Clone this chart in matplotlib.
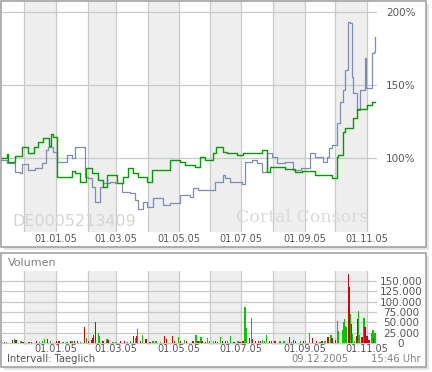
import matplotlib.pyplot as plt
from matplotlib.patches import Rectangle
from matplotlib.transforms import ScaledTranslation
from datetime import date

# Taille de l'image en pixels
W, H = 432, 372

# Date du bord gauche de l'axe des temps
debut = date(2004, 11, 8)

# Cours relatif en % (ligne verte) : jour depuis le debut, valeur
jours_vert = [0, 6, 7, 14, 21, 27, 33, 37, 42, 47,
              49, 51, 55, 70, 73, 78, 84, 89, 95, 100,
              104, 114, 120, 125, 129, 134, 143, 148, 166, 175,
              180, 190, 195, 200, 208, 211, 217, 221, 231, 237,
              255, 260, 263, 278, 288, 295, 307, 324, 329, 330,
              335, 337, 344, 348, 358, 363, 366]
cours_vert = [100, 102.7, 97.3, 101.4, 107.5, 103.4, 107.5, 111, 113.7, 108.2,
              116.4, 114.4, 87, 91.1, 89.7, 83.6, 93.2, 89.7, 84.9, 80.1,
              88.4, 82.9, 87, 93.2, 89.7, 87, 83.6, 91.8, 98.6, 97.3,
              95.2, 93.8, 100.7, 98.6, 103.4, 107.5, 104, 103.4, 102, 103.4,
              105.5, 90.4, 93.8, 92.5, 90.4, 91, 88.4, 86.3, 100.7, 102,
              117.8, 120.5, 127.4, 133.6, 136.3, 138.4, 138.4]

# Cours relatif en % (ligne bleue)
jours_bleu = [0, 6, 14, 19, 21, 27, 34, 41, 44, 46,
              51, 55, 65, 70, 73, 83, 85, 89, 92, 97,
              100, 107, 112, 119, 127, 131, 134, 139, 143, 149,
              159, 166, 175, 185, 188, 193, 198, 210, 217, 219,
              224, 236, 239, 246, 251, 255, 260, 265, 270, 278,
              286, 294, 302, 307, 315, 319, 321, 324, 329, 332,
              335, 337, 339, 341, 343, 344, 348, 351, 356, 357,
              358, 363, 365, 366]
cours_bleu = [98.6, 96.6, 90.4, 89.7, 95.9, 91.8, 93.2, 96.6, 105.5, 107.5,
              104, 97.3, 102, 100, 107.5, 87, 86.3, 80.1, 69.9, 80.1,
              82.9, 83.6, 82.9, 76.7, 76, 71.2, 65.1, 69.9, 66.4, 72.6,
              67.8, 69.2, 74.7, 73.3, 79.5, 78, 78, 83.6, 88.4, 86.3,
              83.6, 82.2, 97.3, 98.6, 96.6, 90.4, 103.4, 100.7, 96.6, 97.3,
              91.8, 93.2, 103.4, 100.7, 97.3, 100.7, 106.8, 108.9, 124, 138.4,
              146.6, 160.3, 193.2, 192.5, 155.5, 144.5, 132.9, 146.6, 168.5, 147.9,
              147.9, 172, 172.6, 182.9]

# Volumes journaliers (en milliers) et sens de la seance (g = hausse, r = baisse)
jours_vol = [1, 4, 6, 12, 14, 15, 20, 22, 28, 30,
             35, 38, 41, 43, 46, 49, 55, 57, 61, 65,
             69, 70, 72, 75, 78, 82, 84, 86, 89, 90,
             91, 93, 96, 97, 100, 104, 105, 110, 113, 117,
             121, 124, 127, 130, 132, 133, 134, 137, 139, 142,
             146, 149, 152, 156, 160, 162, 168, 170, 174, 176,
             180, 182, 188, 191, 193, 195, 196, 197, 200, 202,
             204, 208, 210, 212, 215, 217, 220, 222, 225, 228,
             232, 234, 237, 239, 240, 243, 245, 246, 249, 252,
             254, 256, 258, 260, 263, 265, 268, 273, 277, 282,
             284, 286, 288, 293, 296, 298, 302, 305, 309, 312,
             314, 317, 320, 323, 324, 327, 329, 330, 334, 335,
             336, 337, 338, 340, 341, 342, 343, 344, 346, 348,
             349, 350, 351, 353, 355, 356, 358, 360, 363, 364,
             365, 366]
volumes_k = [8, 3, 3, 7, 9, 8, 5, 3, 3, 2,
             4, 3, 5, 9, 9, 5, 6, 5, 3, 3,
             5, 5, 4, 6, 3, 39, 12, 4, 8, 12,
             20, 51, 23, 17, 4, 9, 7, 3, 3, 6,
             4, 3, 6, 17, 12, 16, 33, 5, 20, 9,
             3, 6, 4, 3, 17, 9, 17, 4, 14.5, 6,
             7, 4, 5, 18.5, 4, 5, 14.5, 6, 3, 12,
             4, 5, 6, 3, 14.5, 6, 4, 4, 17, 3,
             5, 3, 6, 87, 36, 12, 60, 10, 4, 6,
             4, 8, 5, 18.5, 6, 5, 5, 6, 4, 14.5,
             3, 8, 4, 5, 6, 4, 24, 12, 4, 3,
             4, 6, 14.5, 18.5, 12, 8, 53, 29, 31, 51,
             57, 41, 39, 166, 135, 71, 47, 21, 6, 17,
             57, 77, 18.5, 14, 60, 39, 16, 8, 23, 31,
             12, 25]
sens_vol = list("grgrgrgrrr" "rgggrgrrgg" "rgrrgrgrrr" "rrggrgrggr"
                "rggrgrgrgr" "rgggrrrrgr" "grrgrggrrg" "ggrrgrrggr"
                "grrggrgrrr" "rgggrrrggr" "grrgrggrrg" "rgrgrrgggg"
                "gggrrgrggr" "rggrgrrrgg" "rg")

# Graduations
pct_ticks = [100, 150, 200]
vol_ticks = [0, 25000, 50000, 75000, 100000, 125000, 150000]
mois = [date(2004, 12, 1)] + [date(2005, m, 1) for m in range(1, 12)]
mois_labels = [date(2005, m, 1) for m in (1, 3, 5, 7, 9, 11)]
mois_gris = [date(2004, 12, 1)] + [date(2005, m, 1) for m in (2, 4, 6, 8, 10)]

# Couleurs
c_vert = '#009900'
c_bleu = '#7b8db2'
c_grille = '#c9c9c9'
c_bande = '#eeeeee'
c_texte = '#555555'


def jour(d):
    return (d - debut).days


def mois_suivant(d):
    return date(d.year + d.month // 12, d.month % 12 + 1, 1)


fig = plt.figure(figsize=(W / 100, H / 100), dpi=100)


def axes_px(x0, y0, x1, y1):
    return fig.add_axes([x0 / W, 1 - y1 / H, (x1 - x0) / W, (y1 - y0) / H])


# Cadres avec ombre
def cadre(x0, y0, x1, y1):
    fig.add_artist(Rectangle(((x0 + 3) / W, 1 - (y1 + 3) / H), (x1 - x0) / W, (y1 - y0) / H,
                             transform=fig.transFigure, facecolor='#e4e4e4', edgecolor='none', zorder=-3))
    fig.add_artist(Rectangle((x0 / W, 1 - y1 / H), (x1 - x0) / W, (y1 - y0) / H,
                             transform=fig.transFigure, facecolor='white', edgecolor='none', zorder=-2))
    fig.add_artist(Rectangle((x0 / W, 1 - y1 / H), (x1 - x0) / W, (y1 - y0) / H,
                             transform=fig.transFigure, facecolor='none', edgecolor='#9a9a9a',
                             linewidth=1.1, zorder=5))


cadre(0.5, 0.5, 425.5, 246.5)
cadre(0.5, 252.5, 425.5, 366.5)

xlim = (0.5, 367.8)
decalage = ScaledTranslation(-6 / 100, 0, fig.dpi_scale_trans)


def fond(ax):
    ax.set_xlim(*xlim)
    for m in mois_gris:
        ax.axvspan(jour(m), jour(mois_suivant(m)), color=c_bande, lw=0, zorder=0)
    for m in mois:
        ax.axvline(jour(m), color=c_grille, lw=0.9, zorder=1)
    for s in ax.spines.values():
        s.set_visible(False)
    ax.set_xticks([jour(m) for m in mois_labels])
    ax.set_xticklabels([m.strftime('%d.%m.%y') for m in mois_labels])
    for t in ax.get_xticklabels():
        t.set_transform(t.get_transform() + decalage)


# Graphique des cours
ax1 = axes_px(1, 1, 377, 232)
fond(ax1)
ax1.set_ylim(49.3, 207.5)
for p in pct_ticks:
    ax1.axhline(p, color=c_grille, lw=0.9, zorder=1)
ax1.step(jours_bleu, cours_bleu, where='post', color=c_bleu, lw=0.9, zorder=3)
ax1.step(jours_vert, cours_vert, where='post', color=c_vert, lw=1.0, zorder=4)
ax1.set_yticks(pct_ticks)
ax1.set_yticklabels([f'{p}%' for p in pct_ticks])
ax1.tick_params(axis='x', length=0, pad=1.8, labelsize=7, labelcolor=c_texte)
ax1.tick_params(axis='y', length=0, pad=17.3, labelsize=7.5, labelcolor=c_texte,
                labelleft=False, labelright=True)
for t in ax1.get_yticklabels():
    t.set_ha('center')

# Filigranes
ax1.text(11 / 376, 6 / 231, 'DE0005213409', transform=ax1.transAxes, fontsize=11.5,
         color='#d4d4d4', va='baseline', ha='left', zorder=2)
ax1.text(235 / 376, 10 / 231, 'Cortal Consors', transform=ax1.transAxes, fontsize=12.5,
         family='DejaVu Serif', color='#dadada', va='baseline', ha='left', zorder=2)

# Graphique des volumes
ax2 = axes_px(1, 271, 377, 345)
fond(ax2)
ax2.set_ylim(-4840, 174200)
for v in vol_ticks:
    ax2.axhline(v, color=c_grille, lw=0.9, zorder=1)
volumes = [v * 1000 for v in volumes_k]
couleurs = ['#00c400' if s == 'g' else '#cc0000' for s in sens_vol]
ax2.bar(jours_vol, volumes, width=1.3, color=couleurs, linewidth=0, zorder=3)
ax2.set_yticks(vol_ticks)
ax2.set_yticklabels([f'{v:,}'.replace(',', '.') for v in vol_ticks])
ax2.tick_params(axis='x', length=0, pad=-0.6, labelsize=7, labelcolor=c_texte)
ax2.tick_params(axis='y', length=0, pad=17.3, labelsize=7.5, labelcolor=c_texte,
                labelleft=False, labelright=True)
for t in ax2.get_yticklabels():
    t.set_ha('center')

# Textes
fig.text(8 / W, 1 - 262.5 / H, 'Volumen', fontsize=8, color='#808080', va='center')
fig.text(7 / W, 1 - 359 / H, 'Intervall: Taeglich', fontsize=7.2, color=c_texte, va='center')
fig.text(291 / W, 1 - 359.5 / H, '09.12.2005', fontsize=7.2, color='#808080', va='center')
fig.text(421 / W, 1 - 359.5 / H, '15:46 Uhr', fontsize=7.2, color='#808080', va='center', ha='right')

fig.savefig('out.png', dpi=100)
